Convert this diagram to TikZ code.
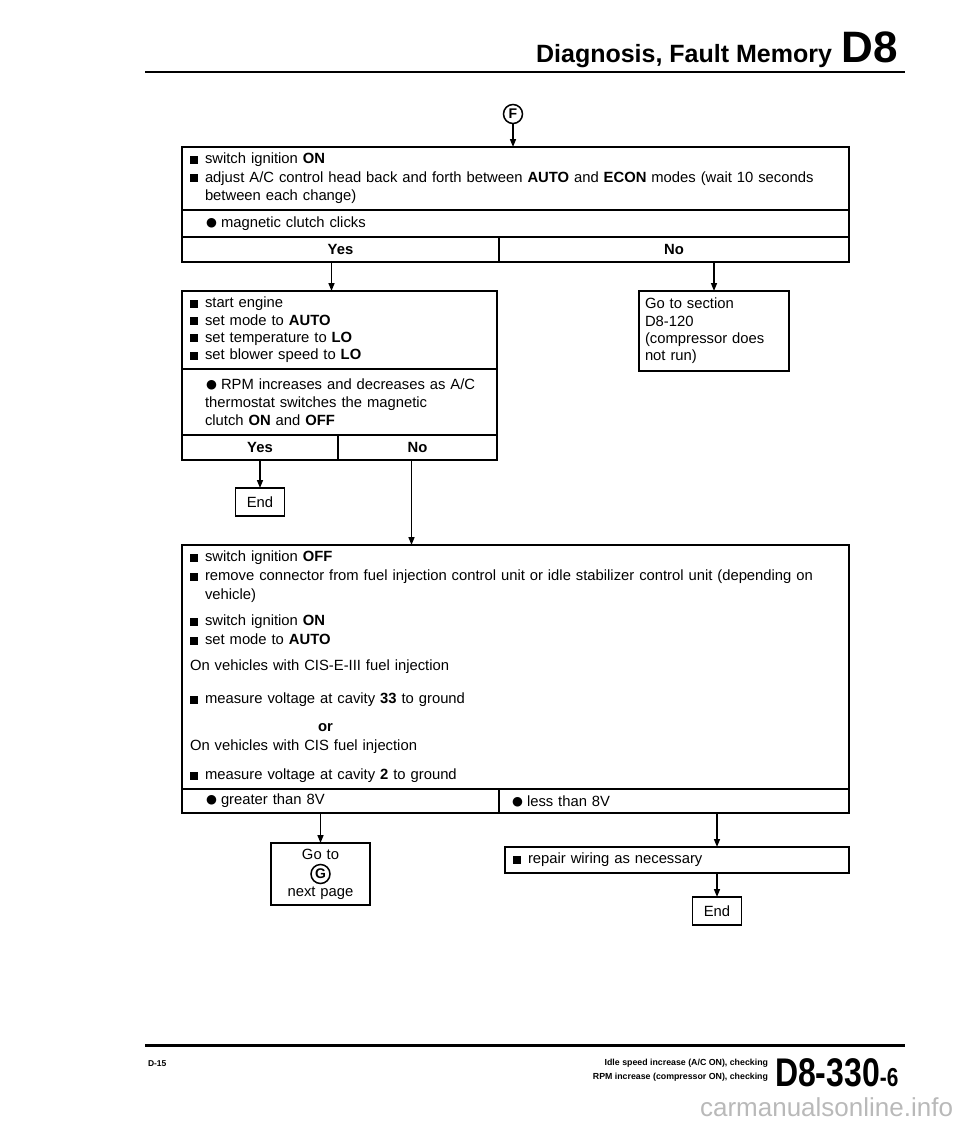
\documentclass[tikz,border=0pt]{standalone}
\usepackage{fontspec}
\usepackage{graphicx}
\setmainfont{Liberation Sans}
\newfontfamily\symfont{DejaVu Sans}
\usetikzlibrary{arrows.meta, positioning}

\newcommand{\sqbul}{\makebox[15pt][l]{\rule[0.2pt]{8pt}{8pt}}}
\newcommand{\dotbul}{\makebox[15pt][l]{\raisebox{1.2pt}{\symfont\fontsize{12.5}{12}\selectfont ●}}}
\newcommand{\dotind}{\hspace*{16pt}}
\newcommand{\hang}{\hspace*{15pt}}

\begin{document}
\begin{tikzpicture}[
  x=1pt, y=1pt,
  every node/.style={inner sep=0pt, outer sep=0pt, font=\fontsize{14.8}{18.5}\selectfont},
  box/.style={draw, line width=1.6pt, anchor=north west, inner xsep=8pt, align=left},
  cell/.style={draw, line width=1.6pt, anchor=north west, font=\fontsize{14.8}{18.5}\selectfont\bfseries},
  endbox/.style={draw, line width=1.6pt, minimum width=49pt, minimum height=28pt},
  tag/.style={draw, circle, line width=1.5pt, minimum size=19pt, font=\fontsize{14}{14}\selectfont\bfseries},
  flow/.style={draw, line width=1.5pt, -{Triangle[length=8pt, width=6pt]}}
]
\useasboundingbox (0,0) rectangle (960,-1121);

% page header
\node[anchor=base east, font=\fontsize{25}{25}\selectfont\bfseries] (title) at (832,-63) {Diagnosis, Fault Memory};
\node[anchor=base east, font=\fontsize{44}{44}\selectfont\bfseries] (chap) at (898,-63) {D8};
\draw[line width=2.5pt] (145,-72) -- (905,-72);

% entry point F
\node[tag] (tagF) at (513,-114) {F};

% first test
\node[box, text width=651pt, minimum height=63pt] (ignon) at (182,-147)
  {\sqbul switch ignition \textbf{ON}\\
   \sqbul adjust A/C control head back and forth between \textbf{AUTO} and \textbf{ECON} modes (wait 10 seconds\\
   \hang between each change)};
\node[box, text width=651pt, minimum height=27pt] (clicks) at (ignon.south west)
  {\dotind\dotbul magnetic clutch clicks};
\node[cell, minimum width=317pt, minimum height=25pt] (yesA) at (clicks.south west) {Yes};
\node[cell, minimum width=350pt, minimum height=25pt] (noA) at (yesA.north east) {No};

% second test
\node[box, text width=299pt, minimum height=78pt, font=\fontsize{14.8}{17.3}\selectfont] (engine) at (182,-291)
  {\sqbul start engine\\
   \sqbul set mode to \textbf{AUTO}\\
   \sqbul set temperature to \textbf{LO}\\
   \sqbul set blower speed to \textbf{LO}};
\node[box, text width=299pt, minimum height=66pt, font=\fontsize{14.8}{18}\selectfont] (rpm) at (engine.south west)
  {\dotind\dotbul RPM increases and decreases as A/C\\
   \hang thermostat switches the magnetic\\
   \hang clutch \textbf{ON} and \textbf{OFF}};
\node[cell, minimum width=156pt, minimum height=25pt] (yesB) at (rpm.south west) {Yes};
\node[cell, minimum width=159pt, minimum height=25pt] (noB) at (yesB.north east) {No};

\node[box, inner xsep=6pt, text width=138pt, minimum height=80pt, font=\fontsize{14.8}{17.3}\selectfont] (sect) at (639,-291)
  {Go to section\\ D8-120\\ (compressor does\\ not run)};

\node[endbox, below=28pt of yesB] (endA) {End};

% voltage check
\node[box, text width=651pt, minimum height=244pt, font=\fontsize{14.8}{19}\selectfont] (check) at (182,-545)
  {\sqbul switch ignition \textbf{OFF}\\
   \sqbul remove connector from fuel injection control unit or idle stabilizer control unit (depending on\\
   \hang vehicle)\\[7pt]
   \sqbul switch ignition \textbf{ON}\\
   \sqbul set mode to \textbf{AUTO}\\[7pt]
   On vehicles with CIS-E-III fuel injection\\[14pt]
   \sqbul measure voltage at cavity \textbf{33} to ground\\[9pt]
   \hspace*{128pt}\textbf{or}\\
   On vehicles with CIS fuel injection\\[10pt]
   \sqbul measure voltage at cavity \textbf{2} to ground};
\node[box, text width=301pt, minimum height=24pt] (gtV) at (check.south west) {\dotind\dotbul greater than 8V};
\node[box, text width=334pt, minimum height=24pt] (ltV) at (gtV.north east) {\hspace*{5pt}\dotbul less than 8V};

\node[box, anchor=north, align=center, inner xsep=6pt, text width=87pt, minimum height=62pt] (nextpg) at (320.5,-843)
  {Go to\\ \strut\\ next page};
\node[tag] (tagG) at (nextpg.center) {G};

\node[box, text width=328pt, minimum height=26pt] (repair) at (505,-847) {\sqbul repair wiring as necessary};
\node[endbox] (endB) at (717,-911) {End};

% connectors
\draw[flow] (tagF.south) -- (tagF.south |- ignon.north);
\draw[flow] ([xshift=-9pt]yesA.south) -- ([xshift=-9pt]yesA.south |- engine.north);
\draw[flow] (sect.north |- noA.south) -- (sect.north);
\draw[flow] (yesB.south) -- (endA.north);
\draw[flow] ([xshift=-6pt]noB.south) -- ([xshift=-6pt]noB.south |- check.north);
\draw[flow] (nextpg.north |- gtV.south) -- (nextpg.north);
\draw[flow] (endB.north |- ltV.south) -- (endB.north |- repair.north);
\draw[flow] (repair.south -| endB.north) -- (endB.north);

% page footer
\draw[line width=3pt] (145,-1045) -- (905,-1045);
\node[anchor=west, font=\fontsize{8.5}{8.5}\selectfont\bfseries] (pgno) at (148,-1064) {D-15};
\node[anchor=east, align=right, font=\fontsize{8.8}{14}\selectfont\bfseries] (subj) at (768,-1070)
  {Idle speed increase (A/C ON), checking\\ RPM increase (compressor ON), checking};
\node[anchor=base west, font=\bfseries] (secno) at (775,-1086)
  {\scalebox{0.8}[1]{\fontsize{40}{40}\selectfont D8-330}\scalebox{0.8}[1]{\fontsize{26}{26}\selectfont -6}};
\node[anchor=south east, text=gray!55, font=\fontsize{26}{26}\selectfont] (wmark) at (953,-1117) {carmanualsonline.info};
\end{tikzpicture}
\end{document}
